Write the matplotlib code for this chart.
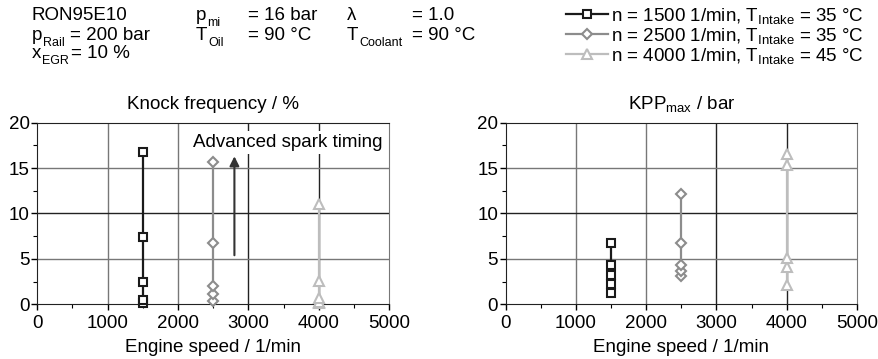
import numpy as np
import matplotlib
matplotlib.use('Agg')
import matplotlib.pyplot as plt
from matplotlib.text import Annotation
from matplotlib.ticker import MultipleLocator

plt.rcParams['font.family'] = ['Liberation Sans', 'DejaVu Sans']
plt.rcParams['mathtext.default'] = 'regular'
FS = 13.5
SUB = 9
plt.rcParams['font.size'] = FS

# engine speeds of the three operating points
speeds = [1500, 2500, 4000]
labels = ['n = 1500 1/min, T$_{Intake}$ = 35 °C',
          'n = 2500 1/min, T$_{Intake}$ = 35 °C',
          'n = 4000 1/min, T$_{Intake}$ = 45 °C']

# knock frequency / % (spark timing sweep)
knock_1500 = [0.1, 0.5, 2.4, 7.4, 16.8]
knock_2500 = [0.4, 1.1, 2.0, 6.7, 15.7]
knock_4000 = [0.1, 0.3, 0.65, 2.6, 11.0]

# KPP max / bar
kpp_1500 = [1.2, 2.2, 3.2, 4.3, 6.8]
kpp_2500 = [3.1, 3.7, 4.3, 6.7, 12.2]
kpp_4000 = [2.1, 4.1, 5.1, 15.3, 16.5]

x_ticks = [0, 1000, 2000, 3000, 4000, 5000]
y_ticks = [0, 5, 10, 15, 20]

colors = ['#1a1a1a', '#8c8c8c', '#bdbdbd']
markers = ['s', 'D', '^']
msizes = [6, 5.5, 7.5]

fig = plt.figure(figsize=(8.79, 3.59), dpi=100)
ax1 = fig.add_axes([0.0424, 0.1524, 0.4005, 0.5058])
ax2 = fig.add_axes([0.5753, 0.1524, 0.3997, 0.5058])


def style(ax):
    ax.set_xlim(0, 5000)
    ax.set_ylim(0, 20)
    ax.set_xticks(x_ticks)
    ax.set_yticks(y_ticks)
    ax.xaxis.set_minor_locator(MultipleLocator(500))
    ax.yaxis.set_minor_locator(MultipleLocator(2.5))
    ax.tick_params(which='major', direction='out', length=4, width=1,
                   labelsize=FS, pad=1.5)
    ax.tick_params(axis='x', which='major', pad=3.5)
    ax.tick_params(which='minor', direction='out', length=3, width=0.8)
    # grid: alternating dark / grey lines
    for v in x_ticks[1:-1]:
        ax.axvline(v, color='#222222' if v >= 3000 else '#777777', lw=1.0, zorder=0)
    for v in y_ticks[1:-1]:
        ax.axhline(v, color='#222222' if v == 10 else '#777777', lw=1.0, zorder=0)
    ax.spines['right'].set_color('#777777')
    for s in ['left', 'bottom', 'top']:
        ax.spines[s].set_color('#222222')
    ax.set_xlabel('Engine speed / 1/min', fontsize=FS, labelpad=5)


series_k = [knock_1500, knock_2500, knock_4000]
series_p = [kpp_1500, kpp_2500, kpp_4000]
handles = []
for n, yk, yp, c, m, ms, lab in zip(speeds, series_k, series_p, colors, markers, msizes, labels):
    h, = ax1.plot([n] * len(yk), yk, color=c, marker=m, ms=ms, mfc='white',
                  mec=c, mew=1.5, lw=1.6, label=lab, zorder=3, clip_on=False)
    ax2.plot([n] * len(yp), yp, color=c, marker=m, ms=ms, mfc='white',
             mec=c, mew=1.5, lw=1.6, zorder=3, clip_on=False)
    handles.append(h)

style(ax1)
style(ax2)
ax1.set_title('Knock frequency / %', fontsize=FS, pad=10)
ax2.set_title('KPP$_{max}$ / bar', fontsize=FS, pad=10)

ax1.annotate('', xy=(2800, 16.3), xytext=(2800, 5.4),
             arrowprops=dict(arrowstyle='-|>', color='#333333', lw=1.5,
                             mutation_scale=14, shrinkA=0, shrinkB=0), zorder=4)
ax1.text(3560, 17.8, 'Advanced spark timing', ha='center', va='center', fontsize=FS,
         bbox=dict(facecolor='white', edgecolor='none', pad=2), zorder=4)


# header with test conditions: main letter, smaller subscript, then the rest
def sub_text(x, y, main, sub='', rest='', gap=1.0):
    yf = 1 - y / 359
    t = fig.text(x / 879, yf, main, ha='left', va='baseline', fontsize=FS)
    if sub:
        s = Annotation(sub, xy=(1, yf), xycoords=(t, 'figure fraction'),
                       xytext=(0.5, -4), textcoords='offset points',
                       ha='left', va='baseline', fontsize=SUB)
        fig.add_artist(s)
        if rest:
            r = Annotation(rest, xy=(1, yf), xycoords=(s, 'figure fraction'),
                           xytext=(gap, 0), textcoords='offset points',
                           ha='left', va='baseline', fontsize=FS)
            fig.add_artist(r)


sub_text(32, 20, 'RON95E10')
sub_text(32, 40, 'p', 'Rail', '= 200 bar', gap=3.5)
sub_text(32, 58, 'x', 'EGR', '= 10 %', gap=1.5)
sub_text(196, 20, 'p', 'mi')
sub_text(248, 20, '= 16 bar')
sub_text(196, 40, 'T', 'Oil')
sub_text(248, 40, '= 90 °C')
sub_text(347, 20, 'λ')
sub_text(412, 20, '= 1.0')
sub_text(347, 40, 'T', 'Coolant')
sub_text(412, 40, '= 90 °C')

fig.legend(handles=handles, loc='upper right', bbox_to_anchor=(864 / 879, 1 - 6 / 359),
           frameon=False, fontsize=FS, handlelength=2.2, handletextpad=0.2,
           labelspacing=0.0, borderaxespad=0, borderpad=0)

fig.savefig('out.png', dpi=100)
